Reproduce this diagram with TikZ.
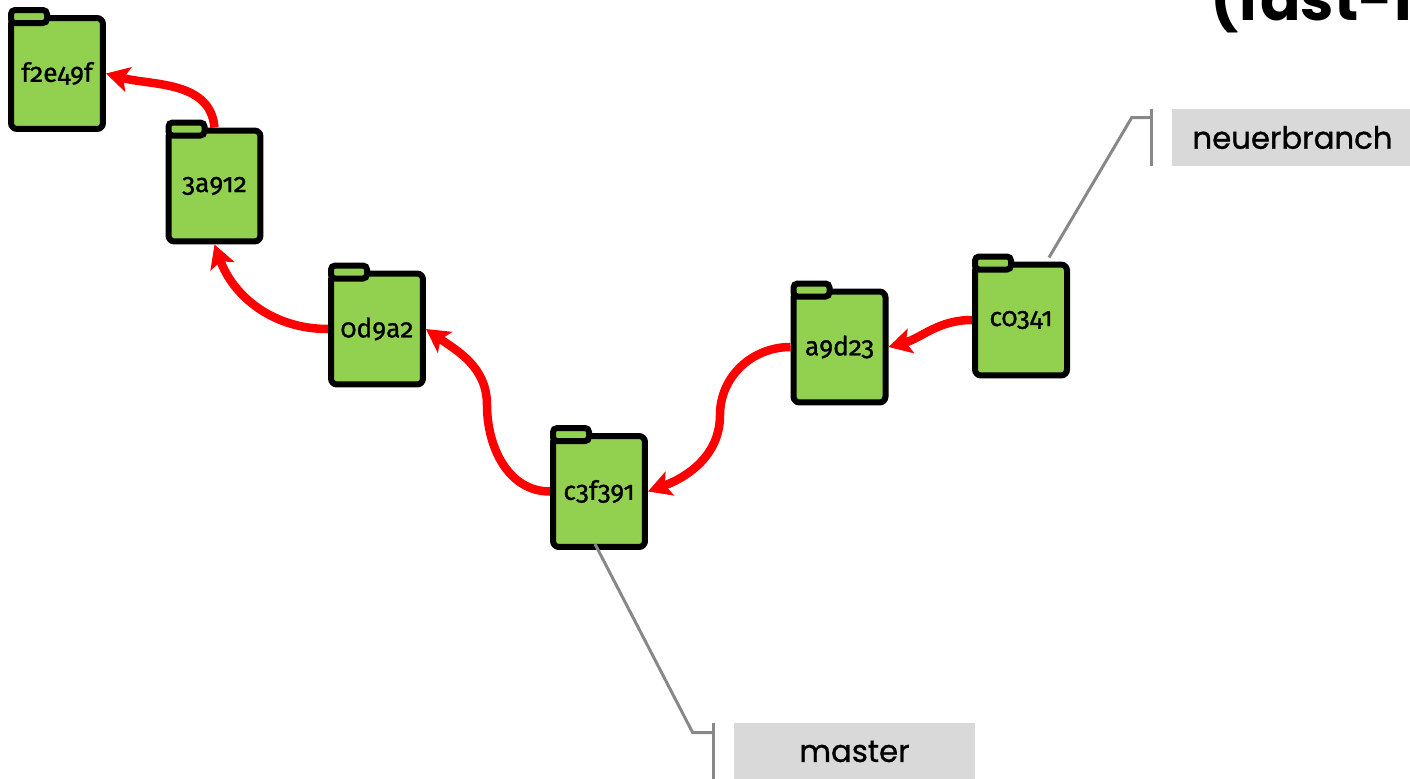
\documentclass[tikz,border=0pt]{standalone}
\usepackage{fontspec}
\setmainfont{Fira Sans}[Numbers=OldStyle]
\newfontfamily\hashfont{Fira Sans}[Numbers=OldStyle,FakeBold=1]
\newfontfamily\geofont{Poppins}
\newfontfamily\branchfont{Poppins}[FakeBold=1]
\usetikzlibrary{arrows.meta}
\definecolor{commitgreen}{RGB}{146,208,80}
\definecolor{branchgray}{RGB}{217,217,217}
\definecolor{linegray}{RGB}{136,136,136}
\tikzset{
  commit/.style = {
    draw, fill=commitgreen, line width=0.12cm, rounded corners=0.12cm,
    minimum width=1.84cm, minimum height=2.22cm, inner sep=0pt,
    font=\hashfont\fontsize{15}{17}\selectfont,
    label={[tab]north west:}
  },
  tab/.style = {
    draw, fill=commitgreen, line width=0.12cm, rounded corners=0.08cm,
    minimum width=0.72cm, minimum height=0.26cm, inner sep=0pt,
    anchor=west, yshift=-0.03cm
  },
  parent/.style = {
    red, line width=0.17cm,
    -{Stealth[length=0.46cm,width=0.5cm,inset=0.1cm]}
  },
  branch/.style = {
    fill=branchgray, minimum width=4.82cm, minimum height=1.14cm,
    inner sep=0pt, font=\branchfont\fontsize{17.5}{20}\selectfont
  },
  pointer/.style = {linegray, line width=0.06cm}
}

\begin{document}
\begin{tikzpicture}[x=0.02cm,y=0.02cm]
  \useasboundingbox (0,0) rectangle (1410,-778);
  \clip (0,0) rectangle (1410,-778);
  % title
  \node[anchor=base west, inner sep=0pt, font=\geofont\fontsize{34}{40}\selectfont\bfseries] (title)
    at (1210,-20) {(fast-forward)};
  % commits
  \node[commit] (f2e49f) at (57,-73.5)    {f2e49f};
  \node[commit] (3a912)  at (214.5,-186)  {3a912};
  \node[commit] (0d9a2)  at (377,-329)    {0d9a2};
  \node[commit] (c3f391) at (599,-491.5)  {c3f391};
  \node[commit] (a9d23)  at (839.5,-347)  {a9d23};
  \node[commit] (c0341)  at (1021,-320)   {c0341};
  % branches
  \node[branch] (neuerbranch) at (1292.5,-137.5) {neuerbranch};
  \node[branch] (master)      at (854.5,-751.5)  {master};
  % parents
  \draw[parent] (3a912.north)  to[out=95,in=-15]  (f2e49f.east);
  \draw[parent] (0d9a2.west)   to[out=180,in=-70] (3a912.south);
  \draw[parent] (c3f391.west)  to[out=180,in=-90] (487,-405)
                               to[out=90,in=-35]  (0d9a2.east);
  \draw[parent] (a9d23.west)   to[out=180,in=90]  (720,-415)
                               to[out=-90,in=20]  (c3f391.east);
  \draw[parent] (c0341.west)   to[out=180,in=15]  (a9d23.east);
  % branch pointers
  \draw[pointer] ([xshift=-0.4cm]neuerbranch.north west) -- ([xshift=-0.4cm]neuerbranch.south west);
  \draw[pointer] ([xshift=0.56cm,yshift=0.08cm]c0341.north)
    -- ([xshift=-0.8cm,yshift=-0.18cm]neuerbranch.north west)
    -- ([xshift=-0.4cm,yshift=-0.18cm]neuerbranch.north west);
  \draw[pointer] ([xshift=-0.4cm]master.north west) -- ([xshift=-0.4cm]master.south west);
  \draw[pointer] ([xshift=-0.08cm,yshift=0.12cm]c3f391.south)
    -- ([xshift=-0.82cm,yshift=-0.2cm]master.north west)
    -- ([xshift=-0.4cm,yshift=-0.2cm]master.north west);
\end{tikzpicture}
\end{document}
